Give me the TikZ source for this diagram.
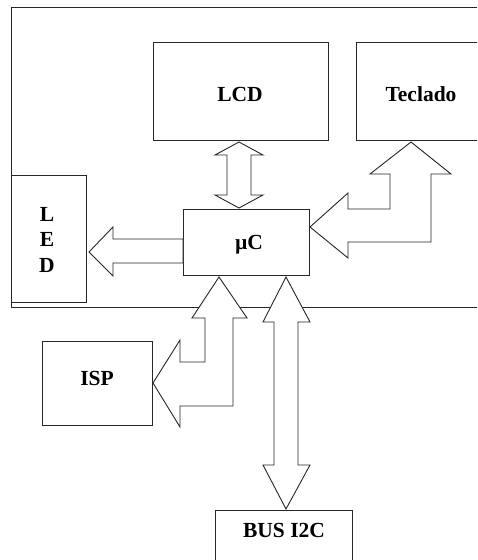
\documentclass[tikz,border=0pt]{standalone}
\usepackage{fontspec}
\setmainfont{Liberation Serif}
\begin{document}
\begin{tikzpicture}[x=1pt,y=-1pt,
  ln/.style={draw=black!85,line width=0.9pt},
  boxn/.style={ln,rectangle,inner sep=0pt},
  lbl/.style={font=\fontsize{21.5}{23}\selectfont\bfseries,inner sep=0pt},
  arr/.style={ln,line join=miter,fill=white}]
\useasboundingbox (0,0) rectangle (477,560);
% outer frame (open to the right)
\draw[ln] (477,7.5) -- (11,7.5) -- (11,307) -- (477,307);
% boxes
\node[boxn,minimum width=175pt,minimum height=98pt] (lcd) at (240.5,91) {};
\node[lbl] (lcdt) at (240,94) {LCD};
\draw[ln] (477,42) -- (356,42) -- (356,140) -- (477,140);
\node[lbl] (tec) at (421,94) {Teclado};
\node[boxn,minimum width=75pt,minimum height=127pt] (led) at (48.5,238.5) {};
\node[lbl] (l1) at (47,214) {L};
\node[lbl] (l2) at (47,239) {E};
\node[lbl] (l3) at (47,265) {D};
\node[boxn,minimum width=126pt,minimum height=66pt] (uc) at (246,242) {};
\node[lbl] (uct) at (249,245) {µC};
\node[boxn,minimum width=110pt,minimum height=84pt] (isp) at (97,383.7) {};
\node[lbl] (ispt) at (97,378) {ISP};
\draw[ln] (215,560) -- (215,510) -- (352,510) -- (352,560);
\node[lbl] (bus) at (284,530) {BUS I2C};
% LCD <-> uC
\draw[arr] (239,142) -- (263,155) -- (251,155) -- (251,195) -- (263,195) -- (239,208)
  -- (215,195) -- (227,195) -- (227,155) -- (215,155) -- cycle;
% uC -> LED
\draw[arr] (89,252) -- (113,227) -- (113,239) -- (183,239) -- (183,263) -- (113,263) -- (113,276) -- cycle;
% Teclado <-> uC (bent)
\draw[arr] (310,227) -- (348,193) -- (348,209) -- (390,209) -- (390,174) -- (370,174)
  -- (411,142) -- (451,174) -- (431,174) -- (431,242) -- (348,242) -- (348,258) -- cycle;
% ISP <-> uC (bent)
\draw[arr] (219,277) -- (247,318) -- (233,318) -- (233,406) -- (180,406) -- (180,427)
  -- (153,383) -- (180,340) -- (180,362) -- (205,362) -- (205,318) -- (192,318) -- cycle;
% BUS <-> uC
\draw[arr] (286,277) -- (310,322) -- (298,322) -- (298,465) -- (310,465) -- (286,509)
  -- (263,465) -- (274,465) -- (274,322) -- (263,322) -- cycle;
\end{tikzpicture}
\end{document}
